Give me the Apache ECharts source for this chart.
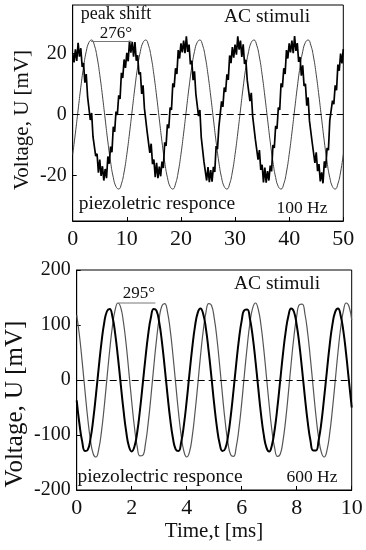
<!DOCTYPE html>
<html><head><meta charset="utf-8">
<script src="https://cdn.jsdelivr.net/npm/echarts@6/dist/echarts.min.js"></script>
<style>html,body{margin:0;padding:0;background:#fff}#c{width:366px;height:550px}</style>
</head><body><div id="c"></div>
<script>
// ---------- TOP PANEL (100 Hz), time in ms, voltage in mV ----------
const xTicksTop = [0, 10, 20, 30, 40, 50];
const yTicksTop = [-20, 0, 20];
const acTop = [[0,-13.1],[0.5,-6.1],[1,1.5],[1.5,9.0],[2,15.6],[2.5,20.7],[3,23.7],[3.5,24.5],[4,22.8],[4.5,18.9],[5,13.1],[5.5,6.1],[6,-1.5],[6.5,-9.0],[7,-15.6],[7.5,-20.7],[8,-23.7],[8.5,-24.5],[9,-22.8],[9.5,-18.9],
[10,-13.1],[10.5,-6.1],[11,1.5],[11.5,9.0],[12,15.6],[12.5,20.7],[13,23.7],[13.5,24.5],[14,22.8],[14.5,18.9],[15,13.1],[15.5,6.1],[16,-1.5],[16.5,-9.0],[17,-15.6],[17.5,-20.7],[18,-23.7],[18.5,-24.5],[19,-22.8],[19.5,-18.9],
[20,-13.1],[20.5,-6.1],[21,1.5],[21.5,9.0],[22,15.6],[22.5,20.7],[23,23.7],[23.5,24.5],[24,22.8],[24.5,18.9],[25,13.1],[25.5,6.1],[26,-1.5],[26.5,-9.0],[27,-15.6],[27.5,-20.7],[28,-23.7],[28.5,-24.5],[29,-22.8],[29.5,-18.9],
[30,-13.1],[30.5,-6.1],[31,1.5],[31.5,9.0],[32,15.6],[32.5,20.7],[33,23.7],[33.5,24.5],[34,22.8],[34.5,18.9],[35,13.1],[35.5,6.1],[36,-1.5],[36.5,-9.0],[37,-15.6],[37.5,-20.7],[38,-23.7],[38.5,-24.5],[39,-22.8],[39.5,-18.9],
[40,-13.1],[40.5,-6.1],[41,1.5],[41.5,9.0],[42,15.6],[42.5,20.7],[43,23.7],[43.5,24.5],[44,22.8],[44.5,18.9],[45,13.1],[45.5,6.1],[46,-1.5],[46.5,-9.0],[47,-15.6],[47.5,-20.7],[48,-23.7],[48.5,-24.5],[49,-22.8],[49.5,-18.9],[50,-13.1]];
const piezoTop = [[0,20.2],[0.25,17.1],[0.5,21.4],[0.75,17.6],[1,23.6],[1.25,19.0],[1.5,21.8],[1.75,15.6],[2,16.9],[2.25,10.5],[2.5,13.3],[2.75,5.9],[3,6.1],[3.25,-1.8],[3.5,0.5],[3.75,-7.3],
[4,-6.8],[4.25,-13.7],[4.5,-12.9],[4.75,-19.1],[5,-14.8],[5.25,-20.2],[5.5,-17.0],[5.75,-21.7],[6,-17.9],[6.25,-20.9],[6.5,-13.8],[6.75,-16.2],[7,-10.5],[7.25,-12.4],[7.5,-4.0],[7.75,-5.7],
[8,1.0],[8.25,-0.1],[8.5,6.3],[8.75,5.1],[9,13.7],[9.25,12.0],[9.5,18.1],[9.75,15.3],[10,20.3],[10.25,17.5],[10.5,24.2],[10.75,20.3],[11,23.9],[11.25,19.0],[11.5,23.8],[11.75,17.7],
[12,19.5],[12.25,13.2],[12.5,13.9],[12.75,6.8],[13,9.6],[13.25,2.1],[13.5,2.5],[13.75,-5.6],[14,-5.5],[14.25,-12.6],[14.5,-9.6],[14.75,-16.3],[15,-14.8],[15.25,-20.6],[15.5,-15.9],[15.75,-20.9],
[16,-17.1],[16.25,-20.3],[16.5,-15.5],[16.75,-17.6],[17,-9.1],[17.25,-10.3],[17.5,-3.2],[17.75,-4.5],[18,2.3],[18.25,1.5],[18.5,10.3],[18.75,9.0],[19,15.2],[19.25,13.3],[19.5,21.2],[19.75,18.4],
[20,23.4],[20.25,20.4],[20.5,24.3],[20.75,20.2],[21,25.7],[21.25,20.6],[21.5,23.0],[21.75,16.5],[22,17.7],[22.25,11.3],[22.5,14.2],[22.75,6.9],[23,7.2],[23.25,-0.5],[23.5,1.5],[23.75,-7.4],
[24,-7.8],[24.25,-15.5],[24.5,-15.2],[24.75,-21.7],[25,-17.3],[25.25,-22.2],[25.5,-18.3],[25.75,-22.1],[26,-17.2],[26.25,-18.9],[26.5,-10.4],[26.75,-11.4],[27,-4.3],[27.25,-4.9],[27.5,4.3],[27.75,2.5],
[28,8.9],[28.25,7.4],[28.5,13.2],[28.75,11.4],[29,19.4],[29.25,16.9],[29.5,22.2],[29.75,18.7],[30,23.0],[30.25,19.7],[30.5,25.7],[30.75,21.3],[31,24.3],[31.25,18.9],[31.5,23.1],[31.75,16.6],
[32,18.0],[32.25,11.3],[32.5,11.7],[32.75,4.4],[33,7.1],[33.25,-0.5],[33.5,-0.1],[33.75,-8.2],[34,-7.9],[34.25,-14.8],[34.5,-11.7],[34.75,-18.2],[35,-16.5],[35.25,-22.3],[35.5,-17.4],[35.75,-22.4],
[36,-18.6],[36.25,-21.7],[36.5,-16.8],[36.75,-18.7],[37,-10.0],[37.25,-11.0],[37.5,-3.7],[37.75,-4.7],[38,2.3],[38.25,1.5],[38.5,10.3],[38.75,9.0],[39,15.2],[39.25,13.3],[39.5,21.2],[39.75,18.4],
[40,23.4],[40.25,20.4],[40.5,24.3],[40.75,20.2],[41,25.8],[41.25,20.9],[41.5,23.5],[41.75,17.3],[42,18.9],[42.25,12.8],[42.5,16.2],[42.75,9.4],[43,10.1],[43.25,2.9],[43.5,5.6],[43.75,-2.1],
[44,-1.9],[44.25,-9.2],[44.5,-9.0],[44.75,-15.9],[45,-12.4],[45.25,-18.6],[45.5,-16.3],[45.75,-22.0],[46,-19.0],[46.25,-22.6],[46.5,-15.4],[46.75,-17.5],[47,-11.0],[47.25,-11.7],[47.5,-2.0],[47.75,-2.3],
[48,4.6],[48.25,3.4],[48.5,9.6],[48.75,8.0],[49,16.4],[49.25,14.4],[49.5,20.0],[49.75,16.8],[50,21.5]];
const shiftTop = [[3.4,24.0],[10.9,24.0]];

// ---------- BOTTOM PANEL (600 Hz) ----------
const xTicksBot = [0, 2, 4, 6, 8, 10];
const yTicksBot = [-200, -100, 0, 100, 200];
const acBot = [[0,118],[0.1,81],[0.2,33],[0.3,-19],[0.4,-69],[0.5,-109],[0.6,-134],[0.7,-140],[0.8,-126],[0.9,-94],[1,-49],[1.1,3],[1.2,54],[1.3,98],[1.4,128],[1.5,140],[1.6,132],[1.7,105],[1.8,64],[1.9,13],
[2,-39],[2.1,-86],[2.2,-121],[2.3,-138],[2.4,-137],[2.5,-116],[2.6,-78],[2.7,-30],[2.8,23],[2.9,72],[3,112],[3.1,135],[3.2,139],[3.3,124],[3.4,91],[3.5,45],[3.6,-7],[3.7,-58],[3.8,-101],[3.9,-130],
[4,-140],[4.1,-131],[4.2,-103],[4.3,-60],[4.4,-10],[4.5,43],[4.6,89],[4.7,123],[4.8,139],[4.9,136],[5,113],[5.1,75],[5.2,26],[5.3,-27],[5.4,-76],[5.5,-114],[5.6,-136],[5.7,-139],[5.8,-122],[5.9,-88],
[6,-42],[6.1,11],[6.2,61],[6.3,104],[6.4,131],[6.5,140],[6.6,129],[6.7,100],[6.8,57],[6.9,6],[7,-46],[7.1,-92],[7.2,-124],[7.3,-139],[7.4,-135],[7.5,-111],[7.6,-72],[7.7,-22],[7.8,31],[7.9,79],
[8,116],[8.1,137],[8.2,138],[8.3,120],[8.4,85],[8.5,38],[8.6,-14],[8.7,-65],[8.8,-106],[8.9,-132],[9,-140],[9.1,-128],[9.2,-97],[9.3,-53],[9.4,-2],[9.5,50],[9.6,95],[9.7,126],[9.8,140],[9.9,134],[10,109]];
const piezoBot = [[0,-37],[0.1,-80],[0.2,-112],[0.3,-129],[0.4,-127],[0.5,-107],[0.6,-72],[0.7,-27],[0.8,22],[0.9,68],[1,104],[1.1,125],[1.2,129],[1.3,115],[1.4,84],[1.5,41],[1.6,-7],[1.7,-54],[1.8,-94],[1.9,-121],
[2,-130],[2.1,-121],[2.2,-95],[2.3,-55],[2.4,-8],[2.5,40],[2.6,83],[2.7,114],[2.8,129],[2.9,126],[3,105],[3.1,69],[3.2,23],[3.3,-26],[3.4,-71],[3.5,-106],[3.6,-126],[3.7,-129],[3.8,-113],[3.9,-81],
[4,-38],[4.1,11],[4.2,58],[4.3,97],[4.4,122],[4.5,130],[4.6,120],[4.7,93],[4.8,52],[4.9,5],[5,-44],[5.1,-86],[5.2,-116],[5.3,-129],[5.4,-125],[5.5,-103],[5.6,-66],[5.7,-20],[5.8,29],[5.9,74],
[6,108],[6.1,127],[6.2,128],[6.3,111],[6.4,79],[6.5,35],[6.6,-14],[6.7,-61],[6.8,-99],[6.9,-123],[7,-130],[7.1,-118],[7.2,-90],[7.3,-49],[7.4,-1],[7.5,47],[7.6,88],[7.7,117],[7.8,130],[7.9,124],
[8,100],[8.1,63],[8.2,17],[8.3,-32],[8.4,-76],[8.5,-110],[8.6,-128],[8.7,-128],[8.8,-109],[8.9,-76],[9,-31],[9.1,17],[9.2,64],[9.3,101],[9.4,124],[9.5,130],[9.6,117],[9.7,88],[9.8,46],[9.9,-2],[10,-50]];
const shiftBot = [[1.52,140],[2.86,140]];
const zeroLine = [0];

const SERIF = '"Liberation Serif","DejaVu Serif",serif';
const chart = echarts.init(document.getElementById('c'), null, {renderer:'canvas'});

function xAxisCfg(gi, ticks, fs){
  return {type:'value', gridIndex:gi, min:ticks[0], max:ticks[ticks.length-1], interval:ticks[1]-ticks[0],
    axisLine:{show:true, onZero:false, lineStyle:{color:'#000', width:1}},
    axisTick:{show:true, inside:true, length:4, lineStyle:{color:'#000'}},
    axisLabel:{show:true, color:'#111', fontFamily:SERIF, fontSize:fs, margin:7},
    splitLine:{show:false}};
}
function yAxisCfg(gi, min, max, ticks, fs){
  return {type:'value', gridIndex:gi, min:min, max:max,
    axisLine:{show:true, onZero:false, lineStyle:{color:'#000', width:1}},
    axisTick:{show:true, inside:true, length:4, customValues:ticks, lineStyle:{color:'#000'}},
    axisLabel:{show:true, color:'#111', fontFamily:SERIF, fontSize:fs, margin:6, customValues:ticks},
    splitLine:{show:false}};
}
const zeroMark = {silent:true, symbol:'none', label:{show:false}, animation:false,
  lineStyle:{type:[7,4], color:'#000', width:1}, data: zeroLine.map(v=>({yAxis:v}))};

function txt(x, y, s, fs, rot){
  return {type:'text', x:x, y:y, rotation: rot||0, z:100,
    style:{text:s, font: fs+'px '+SERIF, fill:'#111', textAlign:'center', textVerticalAlign:'middle'}};
}

chart.setOption({
  animation:false,
  backgroundColor:'#fff',
  grid:[
    {left:72.7, top:5, width:270.6, height:216, show:true, borderColor:'#000', borderWidth:1, backgroundColor:'transparent'},
    {left:76.7, top:270, width:275, height:220, show:true, borderColor:'#000', borderWidth:1, backgroundColor:'transparent'}
  ],
  xAxis:[xAxisCfg(0, xTicksTop, 22), xAxisCfg(1, xTicksBot, 22)],
  yAxis:[yAxisCfg(0, -35, 36, yTicksTop, 20), yAxisCfg(1, yTicksBot[0], yTicksBot[yTicksBot.length-1], yTicksBot, 20)],
  series:[
    {type:'line', xAxisIndex:0, yAxisIndex:0, data:acTop, smooth:true, symbol:'none',
     lineStyle:{color:'#444', width:1}, markLine:zeroMark},
    {type:'line', xAxisIndex:0, yAxisIndex:0, data:piezoTop, symbol:'none',
     lineStyle:{color:'#000', width:1.7}},
    {type:'line', xAxisIndex:0, yAxisIndex:0, data:shiftTop, symbol:'none',
     lineStyle:{color:'#777', width:1}},
    {type:'line', xAxisIndex:1, yAxisIndex:1, data:acBot, smooth:true, symbol:'none',
     lineStyle:{color:'#555', width:1.2}, markLine:zeroMark},
    {type:'line', xAxisIndex:1, yAxisIndex:1, data:piezoBot, smooth:true, symbol:'none',
     lineStyle:{color:'#000', width:2}},
    {type:'line', xAxisIndex:1, yAxisIndex:1, data:shiftBot, symbol:'none',
     lineStyle:{color:'#777', width:1}}
  ],
  graphic:[
    txt(22, 120, 'Voltage, U [mV]', 21, Math.PI/2),
    txt(15, 404, 'Voltage, U [mV]', 25, Math.PI/2),
    txt(214, 531, 'Time,t [ms]', 21),
    txt(116, 14, 'peak shift', 18),
    txt(116, 34, '276°', 17),
    txt(267, 17, 'AC stimuli', 19.5),
    txt(157, 204, 'piezoletric responce', 19.5),
    txt(302, 208, '100 Hz', 17.5),
    txt(277, 284, 'AC stimuli', 19.5),
    txt(139, 294, '295°', 17),
    txt(160, 477, 'piezolectric responce', 19.5),
    txt(312, 477, '600 Hz', 17.5)
  ]
});
</script>
</body></html>
